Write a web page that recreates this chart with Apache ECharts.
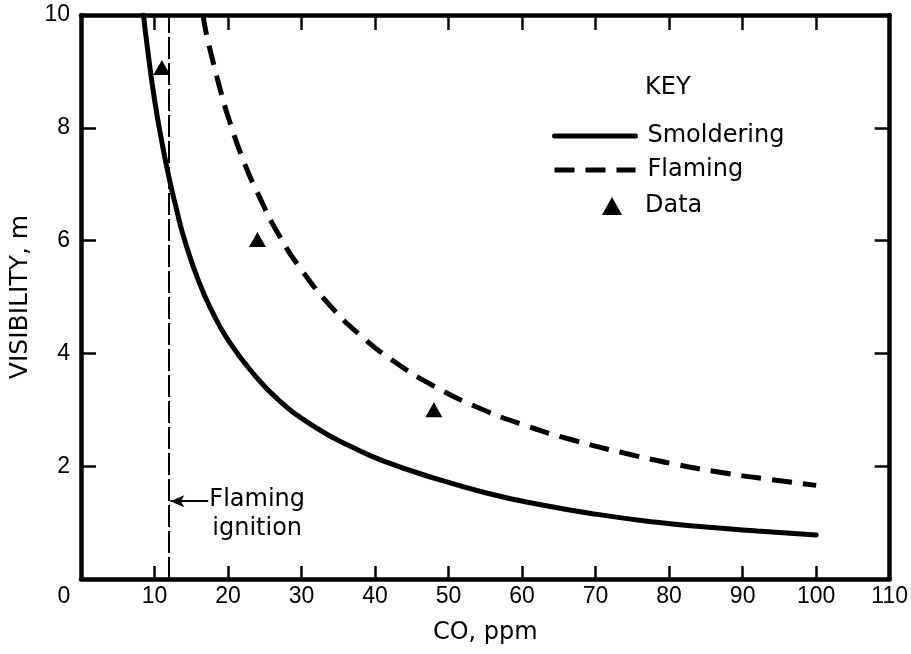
<!DOCTYPE html>
<html>
<head>
<meta charset="utf-8">
<script src="https://cdn.jsdelivr.net/npm/echarts@6/dist/echarts.min.js"></script>
<style>
html,body{margin:0;padding:0;background:#fff;}
#c{width:911px;height:654px;}
</style>
</head>
<body>
<div id="c"></div>
<script>
// CO concentration (ppm) and visibility (m)
const smolderingCO  = [8.5, 9, 10, 11, 12, 13, 14, 16, 18, 20, 23, 27, 32, 37, 41, 48, 55, 62, 70, 78, 85, 92, 100];
const smolderingVis = [10, 9.45, 8.5, 7.75, 7.1, 6.55, 6.05, 5.28, 4.7, 4.24, 3.71, 3.16, 2.68, 2.33, 2.1, 1.79, 1.53, 1.33, 1.15, 1.01, 0.92, 0.85, 0.78];

const flamingCO  = [16.6, 17, 18, 19, 20, 22, 24, 27, 30, 34, 38, 43, 48, 54, 60, 67, 74, 81, 88, 94, 100];
const flamingVis = [10, 9.7, 9.15, 8.65, 8.2, 7.45, 6.85, 6.08, 5.48, 4.83, 4.32, 3.82, 3.42, 3.04, 2.74, 2.46, 2.23, 2.03, 1.87, 1.76, 1.66];

const dataCO  = [11, 24, 48];
const dataVis = [9.07, 6.02, 3.0];

const ignitionCO = 12;
const ignitionArrowY = 1.38;
const ignitionArrowFrom = 17.3;

const xTicks = {min: 0, max: 110, step: 10};
const yTicks = {min: 0, max: 10, step: 2};

const TXT = 'DejaVu Sans';
const NUM = 'Liberation Sans';

const zip = (a, b) => a.map((v, i) => [v, b[i]]);

const chart = echarts.init(document.getElementById('c'), null, {renderer: 'canvas'});

const axisLine = {show: true, onZero: false, lineStyle: {color: '#000', width: 4.5}};
const tickIn = len => ({show: true, inside: true, length: len, lineStyle: {color: '#000', width: 2.5}});
const hidden = 'rgba(0,0,0,0)';

const keyText = {type: 'text', left: 645, top: 76, style: {text: 'KEY', fontFamily: TXT, fontSize: 24, fill: '#000'}};

const option = {
  animation: false,
  backgroundColor: '#fff',
  grid: {left: 77.5, right: 21, top: 15, bottom: 75, containLabel: false},
  xAxis: [
    {
      type: 'value', position: 'bottom', min: xTicks.min, max: xTicks.max, interval: xTicks.step,
      axisLine: axisLine, axisTick: tickIn(13), splitLine: {show: false},
      axisLabel: {
        margin: 6, color: '#000', fontFamily: NUM, fontSize: 23,
        formatter: v => v === 0 ? '{o|0}' : String(v),
        rich: {o: {fontFamily: NUM, fontSize: 23, color: '#000', padding: [0, 34, 0, 0]}}
      },
      name: 'CO, ppm', nameLocation: 'middle', nameGap: 42,
      nameTextStyle: {fontFamily: TXT, fontSize: 24, color: '#000'}
    },
    {
      type: 'value', position: 'top', min: xTicks.min, max: xTicks.max, interval: xTicks.step,
      axisLine: axisLine, axisTick: tickIn(15), axisLabel: {show: false}, splitLine: {show: false}
    }
  ],
  yAxis: [
    {
      type: 'value', position: 'left', min: yTicks.min, max: yTicks.max, interval: yTicks.step,
      axisLine: axisLine, axisTick: tickIn(15), splitLine: {show: false},
      axisLabel: {
        margin: 11, color: '#000', fontFamily: NUM, fontSize: 23,
        formatter: v => v === 0 ? '' : String(v)
      },
      name: 'VISIBILITY, m', nameLocation: 'middle', nameGap: 48,
      nameTextStyle: {fontFamily: TXT, fontSize: 25, color: '#000'}
    },
    {
      type: 'value', position: 'right', min: yTicks.min, max: yTicks.max, interval: yTicks.step,
      axisLine: axisLine, axisTick: tickIn(15), axisLabel: {show: false}, splitLine: {show: false}
    }
  ],
  legend: [
    {
      data: ['Smoldering', 'Flaming'],
      orient: 'vertical', left: 547, top: 119,
      itemWidth: 81, itemHeight: 14, itemGap: 10,
      textStyle: {fontFamily: TXT, fontSize: 24, color: '#000', padding: [0, 0, 0, 7]},
      lineStyle: {width: 5},
      itemStyle: {color: hidden, borderColor: hidden, borderWidth: 0, opacity: 0},
      selectedMode: false
    },
    {
      data: [{name: 'Data', icon: 'triangle'}],
      orient: 'vertical', left: 597, top: 189,
      itemWidth: 20, itemHeight: 18,
      textStyle: {fontFamily: TXT, fontSize: 24, color: '#000', padding: [0, 0, 0, 18]},
      itemStyle: {color: '#000', opacity: 1},
      selectedMode: false
    }
  ],
  graphic: [keyText],
  series: [
    {
      name: 'Smoldering', type: 'line', xAxisIndex: 0, yAxisIndex: 0,
      data: zip(smolderingCO, smolderingVis),
      symbol: 'none', smooth: 0.5,
      lineStyle: {color: '#000', width: 5, cap: 'round'},
      itemStyle: {color: '#000'},
      markLine: {
        silent: true, symbol: 'none', label: {show: false},
        lineStyle: {color: '#000', width: 2, type: [22, 4]},
        data: [{xAxis: ignitionCO}]
      }
    },
    {
      name: 'Flaming', type: 'line', xAxisIndex: 0, yAxisIndex: 0,
      data: zip(flamingCO, flamingVis),
      symbol: 'none', smooth: 0.5,
      lineStyle: {color: '#000', width: 5, type: [20, 11], cap: 'butt'},
      itemStyle: {color: '#000'},
      markLine: {
        silent: true, symbol: ['none', 'arrow'], symbolSize: [9, 14], label: {show: false},
        lineStyle: {color: '#000', width: 2, type: 'solid'},
        data: [[{coord: [ignitionArrowFrom, ignitionArrowY]}, {coord: [ignitionCO + 0.15, ignitionArrowY]}]]
      }
    },
    {
      name: 'Data', type: 'scatter', xAxisIndex: 0, yAxisIndex: 0,
      data: zip(dataCO, dataVis),
      symbol: 'triangle', symbolSize: [17, 15],
      itemStyle: {color: '#000', opacity: 1}
    }
  ]
};

chart.setOption(option);

// annotation text next to the ignition arrow
const p = chart.convertToPixel({xAxisIndex: 0, yAxisIndex: 0}, [ignitionArrowFrom, ignitionArrowY]);
chart.setOption({
  graphic: [
    keyText,
    {
      type: 'text', x: p[0] + 49, y: p[1] + 13,
      style: {
        text: 'Flaming\nignition', fontFamily: TXT, fontSize: 24, lineHeight: 29,
        fill: '#000', align: 'center', verticalAlign: 'middle'
      }
    }
  ]
});
</script>
</body>
</html>
